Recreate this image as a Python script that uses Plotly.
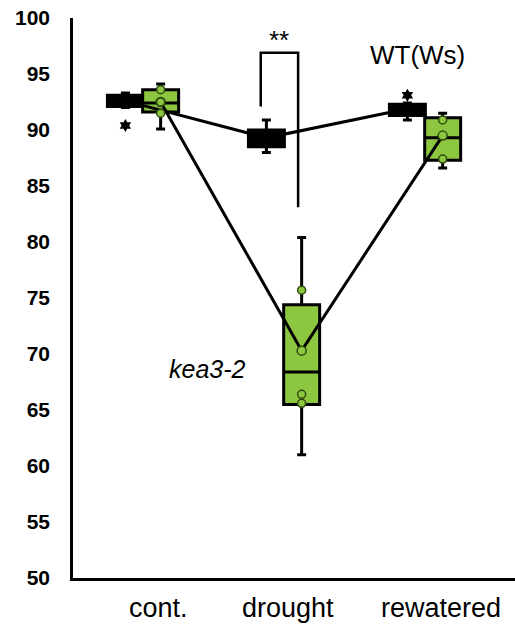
import plotly.graph_objects as go

# ---------------- data ----------------
categories = ["cont.", "drought", "rewatered"]

# WT(Ws) box statistics
wt_q1 = [92.1, 88.5, 91.3]
wt_median = [92.6, 89.2, 91.8]
wt_q3 = [93.1, 90.0, 92.3]
wt_low = [92.0, 88.0, 90.9]
wt_high = [93.3, 90.9, 92.4]
wt_mean = [92.6, 89.3, 91.9]
wt_outliers = [[90.4], [], [93.1]]

# kea3-2 box statistics
kea_q1 = [91.6, 65.5, 87.3]
kea_median = [92.4, 68.4, 89.3]
kea_q3 = [93.6, 74.4, 91.1]
kea_low = [90.1, 61.0, 86.6]
kea_high = [94.1, 80.4, 91.5]
kea_mean = [92.5, 70.3, 89.5]
kea_points = [[93.6, 92.5, 91.5], [75.7, 66.4, 65.6], [90.9, 87.4]]

# significance bracket (drought): top, left foot, right foot
sig_top, sig_left_end, sig_right_end = 96.9, 92.1, 83.1

# ---------------- style ----------------
GREEN = "#8DC63F"
BLACK = "#000000"
OFF = 0.125
BOXW = 0.255
pos = [1, 2, 3]

fig = go.Figure()

# WT boxes (black)
fig.add_trace(go.Box(
    x=[p - OFF for p in pos], q1=wt_q1, median=wt_median, q3=wt_q3,
    lowerfence=wt_low, upperfence=wt_high, width=BOXW,
    fillcolor=BLACK, line=dict(color=BLACK, width=3),
    whiskerwidth=0.25, boxpoints=False, showlegend=False, hoverinfo="skip"))

# kea3-2 boxes (green)
fig.add_trace(go.Box(
    x=[p + OFF for p in pos], q1=kea_q1, median=kea_median, q3=kea_q3,
    lowerfence=kea_low, upperfence=kea_high, width=BOXW,
    fillcolor=GREEN, line=dict(color=BLACK, width=3),
    whiskerwidth=0.25, boxpoints=False, showlegend=False, hoverinfo="skip"))

# mean lines
fig.add_trace(go.Scatter(x=[p - OFF for p in pos], y=wt_mean, mode="lines",
                         line=dict(color=BLACK, width=3), showlegend=False))
fig.add_trace(go.Scatter(x=[p + OFF for p in pos], y=kea_mean, mode="lines",
                         line=dict(color=BLACK, width=3), showlegend=False))

# kea mean markers
fig.add_trace(go.Scatter(x=[p + OFF for p in pos], y=kea_mean, mode="markers",
                         marker=dict(symbol="circle", size=9, color=GREEN,
                                     line=dict(color="#2f4a10", width=1.5)),
                         showlegend=False))

# kea individual points
px, py = [], []
for p, pts in zip(pos, kea_points):
    for v in pts:
        px.append(p + OFF)
        py.append(v)
fig.add_trace(go.Scatter(x=px, y=py, mode="markers",
                         marker=dict(symbol="circle", size=8, color=GREEN,
                                     line=dict(color="#2f4a10", width=1.5)),
                         showlegend=False))

# WT outliers
ox, oy = [], []
for p, pts in zip(pos, wt_outliers):
    for v in pts:
        ox.append(p - OFF)
        oy.append(v)
fig.add_trace(go.Scatter(x=ox, y=oy, mode="markers",
                         marker=dict(symbol="hexagram", size=10, color=BLACK),
                         showlegend=False))

# significance bracket
xl, xr = 2 - OFF - 0.04, 2 + 0.1
fig.add_trace(go.Scatter(x=[xl, xl, xr, xr], y=[sig_left_end, sig_top, sig_top, sig_right_end],
                         mode="lines", line=dict(color=BLACK, width=2.5), showlegend=False))

annotations = [
    dict(x=(xl + xr) / 2, y=98.0, text="**", showarrow=False,
         font=dict(size=26, color=BLACK, family="Liberation Sans")),
    dict(x=2.95, y=96.7, text="WT(Ws)", showarrow=False,
         font=dict(size=26, color=BLACK, family="Liberation Sans")),
    dict(x=1.46, y=68.7, text="<i>kea3-2</i>", showarrow=False,
         font=dict(size=25, color=BLACK, family="Liberation Sans")),
]
label_x = [1.11, 2.03, 3.11]
for lx, lab in zip(label_x, categories):
    annotations.append(dict(x=lx, y=0, xref="x", yref="paper", yshift=-47,
                            text=lab, showarrow=False,
                            font=dict(size=27, color=BLACK, family="Liberation Sans")))

fig.update_layout(
    width=515, height=628,
    margin=dict(l=73, r=0, t=18, b=50),
    paper_bgcolor="white", plot_bgcolor="white",
    annotations=annotations,
    xaxis=dict(range=[0.5035, 3.638], showticklabels=False, showgrid=False,
               zeroline=False, showline=True, linecolor=BLACK, linewidth=2.5,
               ticks=""),
    yaxis=dict(range=[50, 100], tickvals=list(range(50, 101, 5)),
               showgrid=False, zeroline=False, showline=True, linecolor=BLACK,
               linewidth=2.5, ticks="", ticklabelstandoff=16,
               tickfont=dict(size=21, color=BLACK, family="Liberation Sans", weight="bold")),
)

fig.write_html("out.html")
